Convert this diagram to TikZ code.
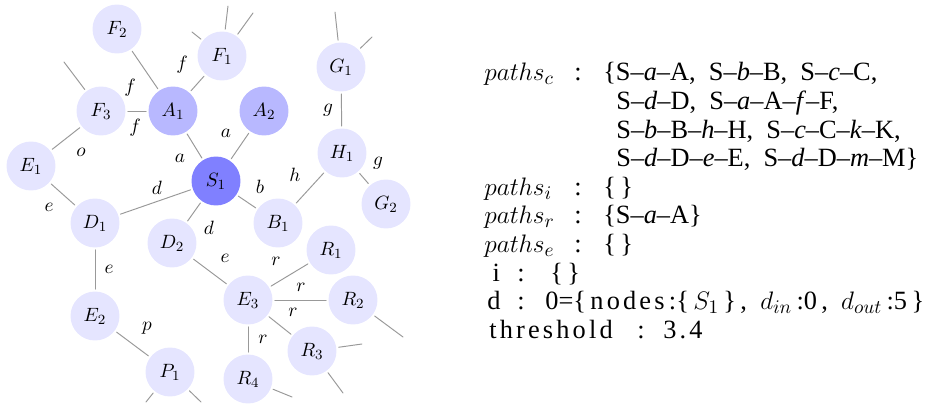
\documentclass[tikz,border=0pt]{standalone}
\usepackage[no-math]{fontspec}
\setmainfont{Liberation Serif}
\newfontfamily\spaced[LetterSpace=12]{Liberation Serif}
\usepackage{amsmath}
\usetikzlibrary{positioning}

\tikzset{
	vtx/.style={circle, fill=blue!10, minimum size=0.98cm, inner sep=0pt, outer sep=1.4pt, font=\fontsize{11}{13}\selectfont},
	vtxa/.style={vtx, fill=blue!28},
	vtxs/.style={vtx, fill=blue!50},
	edge/.style={draw=black!40, line width=0.55pt},
	lbl/.style={font=\fontsize{11}{13}\selectfont, inner sep=0pt},
	txt/.style={anchor=base west, inner sep=0pt, font=\fontsize{15}{18}\selectfont},
}

\begin{document}
\begin{tikzpicture}[x=0.02cm, y=-0.02cm, line cap=round]
	\useasboundingbox (0,0) rectangle (934,405);
	% Các đỉnh
	\foreach \n/\l/\x/\y in {F2/F_2/117/29, F1/F_1/222/56, G1/G_1/341/67, F3/F_3/101/111,
		E1/E_1/31/166, H1/H_1/342/153, G2/G_2/386/204, D1/D_1/95/223, D2/D_2/172/243,
		B1/B_1/278/223, R1/R_1/331/250, E3/E_3/248/300, R2/R_2/353/300, E2/E_2/95/316,
		R3/R_3/312/351, P1/P_1/170/372, R4/R_4/248/379}
		\node[vtx] (\n) at (\x,\y) {$\l$};
	\node[vtxa] (A1) at (173,111) {$A_1$};
	\node[vtxa] (A2) at (264,111) {$A_2$};
	\node[vtxs] (S1) at (216,181) {$S_1$};
	% Các cạnh
	\foreach \u/\v in {F2/A1, F1/A1, F3/A1, A1/S1, A2/S1, F3/E1, E1/D1, D1/S1, D1/E2, S1/D2,
		S1/B1, B1/H1, H1/G1, H1/G2, D2/E3, E3/R1, E3/R2, E3/R3, E3/R4, E2/P1}
		\draw[edge] (\u) -- (\v);
	% Cạnh đi ra ngoài
	\foreach \n/\x/\y in {f1a/228/6, f1b/253/13, f1c/192/32, f3a/64/62, g1a/335/12, g1b/372/37,
		r2a/403/337, r3a/362/344, r3b/343/393, r4a/292/397, p1a/146/402, p1b/201/402}
		\coordinate (\n) at (\x,\y);
	\foreach \u/\v in {F1/f1a, F1/f1b, F1/f1c, F3/f3a, G1/g1a, G1/g1b, R2/r2a, R3/r3a, R3/r3b,
		R4/r4a, P1/p1a, P1/p1b}
		\draw[edge] (\u) -- (\v);
	% Nhãn cạnh
	\foreach \t/\x/\y [count=\i] in {f/182/65, f/130/88, f/135/128, a/226/133, a/180/158,
		o/81/152, d/157/188, b/260/187, h/295/175, g/328/110, g/378/163, e/49/207, d/209/228,
		e/109/269, e/225/258, r/276/261, r/301/287, r/293/312, r/263/339, p/147/328}
		\node[lbl] (w\i) at (\x,\y) {$\t$};
	% Văn bản bên phải
	\node[txt] (pc1) at (484,81) {\makebox[1.8cm][l]{$paths_c$}\makebox[0.58cm][l]{:}\{S--\textit{a}--A,\ \ S--\textit{b}--B,\ \ S--\textit{c}--C,};
	\node[txt] (pc2) at (616,109.6) {S--\textit{d}--D,\ \ S--\textit{a}--A--\textit{f}--F,};
	\node[txt] (pc3) at (616,138.2) {S--\textit{b}--B--\textit{h}--H,\ \ S--\textit{c}--C--\textit{k}--K,};
	\node[txt] (pc4) at (616,166.8) {S--\textit{d}--D--\textit{e}--E,\ \ S--\textit{d}--D--\textit{m}--M\}};
	\node[txt] (pi) at (484,195.4) {\makebox[1.8cm][l]{$paths_i$}\makebox[0.58cm][l]{:}\{\,\}};
	\node[txt] (pr) at (484,224) {\makebox[1.8cm][l]{$paths_r$}\makebox[0.58cm][l]{:}\{S--\textit{a}--A\}};
	\node[txt] (pe) at (484,252.6) {\makebox[1.8cm][l]{$paths_e$}\makebox[0.58cm][l]{:}\{\,\}};
	\node[txt] (ii) at (487,281.2) {\makebox[0.6cm][l]{\hspace{3pt}i}\makebox[0.66cm][l]{:}\{\,\}};
	\node[txt] (dd) at (487,309.8) {\makebox[0.6cm][l]{d}\makebox[0.56cm][l]{:}0=\{\,{\spaced nodes}\,:\{\,$S_1$\,\}\,,\ \ $d_{in}$\,:0\,,\ \ $d_{out}$\,:5\,\}};
	\node[txt] (th) at (489,338.4) {\makebox[2.96cm][l]{\spaced threshold}\makebox[0.52cm][l]{:}{\spaced 3.4}};
\end{tikzpicture}
\end{document}
